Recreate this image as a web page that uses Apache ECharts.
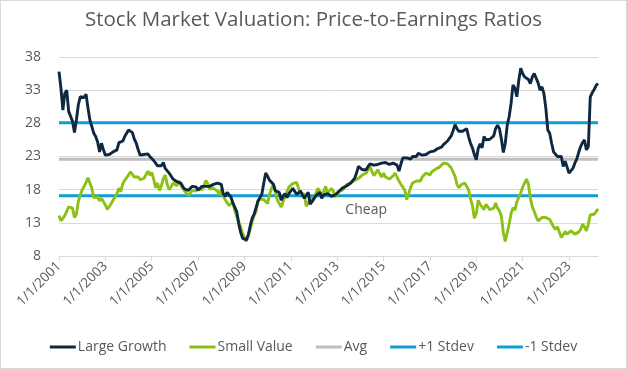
<!DOCTYPE html>
<html>
<head>
<meta charset="utf-8">
<script src="https://cdn.jsdelivr.net/npm/echarts@6/dist/echarts.min.js"></script>
<style>
html,body{margin:0;padding:0;background:#fff;}
#frame{position:absolute;left:0;top:0;width:625px;height:367px;border:1px solid #d9d9d9;}
#chart{width:627px;height:369px;}
</style>
</head>
<body>
<div id="frame"></div>
<div id="chart"></div>
<script>
// Monthly data, Jan 2001 .. Apr 2024
const startYear = 2001;
const largeGrowth = [
  35.8, 33.3, 30.0, 32.5, 33.0, 29.8, 29.7, 28.3, 26.6, 28.5, 30.8, 32.0,
  32.0, 31.9, 32.4, 30.3, 28.5, 27.5, 26.5, 26.0, 25.2, 23.7, 25.0, 24.0,
  23.2, 23.0, 23.3, 23.5, 23.7, 23.7, 24.0, 25.1, 24.8, 25.3, 26.0, 26.5,
  27.0, 27.1, 26.6, 25.6, 25.0, 24.0, 23.2, 23.5, 23.3, 23.0, 23.4, 23.0,
  22.8, 22.4, 22.0, 21.6, 21.5, 21.6, 22.1, 21.2, 21.0, 20.5, 20.2, 19.6,
  19.7, 19.2, 19.2, 19.0, 18.5, 18.1, 17.8, 17.9, 18.2, 18.5, 18.7, 18.4,
  17.9, 18.2, 18.5, 18.2, 18.5, 18.6, 18.5, 18.2, 18.8, 19.0, 19.0, 18.7,
  18.8, 17.4, 17.0, 17.6, 17.3, 16.9, 16.0, 16.2, 14.7, 12.9, 11.6, 10.7,
  10.9, 10.4, 11.2, 12.6, 13.7, 14.3, 15.3, 16.3, 16.8, 17.3, 19.0, 20.5,
  20.0, 19.4, 19.2, 18.8, 17.8, 17.5, 17.6, 16.4, 17.0, 17.4, 16.8, 17.4,
  17.8, 18.2, 17.9, 17.3, 17.0, 17.8, 17.2, 16.7, 16.9, 17.6, 15.8, 16.2,
  16.0, 17.1, 16.9, 17.6, 16.7, 17.2, 16.9, 17.4, 17.3, 17.0, 17.2, 17.2,
  17.5, 17.8, 18.1, 18.3, 18.4, 18.6, 18.8, 19.0, 19.3, 19.7, 20.5, 21.5,
  21.5, 21.0, 21.2, 21.0, 21.5, 21.9, 22.2, 21.7, 21.8, 21.8, 21.6, 22.0,
  21.7, 22.1, 21.8, 21.8, 21.8, 22.0, 21.7, 21.7, 20.8, 21.9, 22.8, 22.8,
  22.8, 22.8, 22.6, 23.0, 22.9, 23.0, 23.5, 23.2, 23.2, 23.5, 23.3, 23.5,
  23.7, 23.6, 23.8, 24.1, 24.2, 24.2, 24.4, 24.8, 24.9, 25.3, 25.7, 26.1,
  26.9, 27.8, 27.2, 26.8, 26.8, 26.8, 27.1, 27.2, 26.0, 25.0, 24.3, 23.3,
  22.5, 24.2, 24.9, 24.3, 26.0, 25.5, 25.7, 25.6, 25.7, 26.1, 27.2, 27.7,
  27.2, 25.6, 23.6, 25.0, 27.7, 29.0, 31.0, 33.8, 33.3, 32.0, 34.5, 36.3,
  35.5, 35.0, 35.3, 34.6, 34.0, 35.0, 35.5, 34.8, 34.1, 33.0, 33.5, 32.5,
  30.3, 27.0, 26.5, 25.0, 23.7, 23.5, 23.0, 22.7, 23.0, 21.5, 22.3, 21.4,
  20.5, 20.5, 21.2, 22.0, 22.6, 23.6, 24.5, 25.1, 25.5, 24.0, 24.5, 32.0,
  32.6, 33.1, 33.7, 34.0
];
const smallValue = [
  14.1, 13.3, 13.6, 14.1, 14.4, 15.4, 15.4, 15.2, 13.8, 14.3, 16.2, 17.2,
  18.0, 18.5, 19.1, 19.8, 19.6, 18.2, 16.8, 16.6, 16.9, 16.3, 16.7, 16.2,
  15.7, 15.0, 15.3, 15.9, 16.4, 16.7, 17.4, 18.2, 17.7, 18.9, 19.4, 19.8,
  20.2, 20.7, 20.8, 19.9, 20.1, 19.9, 19.5, 19.6, 19.7, 19.4, 20.8, 20.2,
  20.6, 19.6, 18.3, 19.0, 17.9, 18.6, 19.7, 20.2, 18.8, 18.0, 18.4, 19.0,
  19.2, 18.6, 19.3, 19.2, 18.2, 17.8, 17.6, 17.1, 17.3, 17.9, 18.1, 17.8,
  18.2, 18.5, 18.0, 18.5, 19.4, 18.9, 18.1, 17.9, 18.2, 18.4, 17.8, 17.2,
  18.1, 17.0, 16.5, 16.8, 15.6, 15.8, 16.1, 14.8, 14.5, 13.2, 12.4, 11.4,
  11.7, 10.2, 10.5, 12.0, 13.2, 14.1, 14.7, 16.2, 16.6, 16.5, 16.5, 16.6,
  15.9, 17.3, 18.2, 18.8, 17.7, 16.4, 16.7, 15.4, 16.2, 17.0, 17.7, 18.4,
  18.3, 18.9, 19.2, 19.1, 18.2, 17.5, 17.6, 17.3, 15.5, 15.9, 16.7, 16.7,
  16.7, 17.0, 18.2, 17.7, 17.2, 17.7, 18.5, 17.5, 17.7, 18.2, 17.8, 16.9,
  17.0, 17.7, 17.8, 18.0, 18.3, 18.8, 19.1, 19.0, 19.3, 19.4, 19.5, 19.7,
  19.9, 20.2, 20.0, 20.5, 20.8, 21.5, 20.7, 20.1, 19.9, 21.0, 20.9, 19.9,
  20.5, 19.9, 19.6, 19.6, 19.6, 20.1, 20.5, 20.2, 19.3, 18.8, 18.6, 17.9,
  16.5, 16.7, 18.3, 19.0, 19.2, 19.3, 19.5, 19.3, 19.9, 19.8, 20.5, 20.5,
  20.2, 20.7, 20.7, 21.1, 21.2, 21.4, 21.5, 22.0, 22.2, 21.9, 21.7, 21.3,
  21.2, 20.0, 18.8, 18.3, 18.7, 19.0, 19.0, 18.7, 18.0, 16.6, 15.6, 13.7,
  14.4, 16.4, 15.8, 15.6, 15.0, 15.8, 15.8, 15.0, 15.2, 15.2, 16.0, 15.2,
  14.8, 14.0, 11.5, 10.2, 11.5, 12.8, 14.4, 15.3, 14.9, 16.2, 16.5, 17.5,
  18.4, 19.0, 19.6, 18.8, 16.7, 15.4, 14.7, 13.9, 13.3, 13.4, 13.8, 14.0,
  13.8, 13.9, 13.5, 13.3, 12.4, 12.0, 12.4, 11.6, 10.8, 11.1, 11.7, 11.3,
  11.0, 11.8, 12.1, 11.3, 11.3, 11.6, 12.0, 12.8, 12.4, 11.8, 12.8, 14.2,
  14.0, 14.3, 14.7, 15.1
];
const avgLevel = 22.6;
const plusStdevLevel = 28.1;
const minusStdevLevel = 17.1;
const yTicks = [8, 13, 18, 23, 28, 33, 38];
const seriesNames = ['Large Growth', 'Small Value', 'Avg', '+1 Stdev', '-1 Stdev'];
const titleText = 'Stock Market Valuation: Price-to-Earnings Ratios';
const cheapText = 'Cheap';
const cheapAtIndex = 159;

const months = largeGrowth.map((_, i) => {
  const y = startYear + Math.floor(i / 12);
  const m = (i % 12) + 1;
  return m + '/1/' + y;
});
const flat = v => months.map(() => v);

const FONT = '"Open Sans", Roboto, sans-serif';
const TXT = '#595959';

const chart = echarts.init(document.getElementById('chart'), null, {renderer: 'canvas'});
chart.setOption({
  animation: false,
  backgroundColor: 'transparent',
  title: {
    text: titleText, left: 'center', top: 5,
    textStyle: {fontFamily: FONT, fontSize: 20.5, fontWeight: 'normal', color: TXT}
  },
  grid: {left: 59, right: 29, top: 57, bottom: 113, containLabel: false},
  legend: {
    data: seriesNames, bottom: 10, left: 'center', itemGap: 23,
    itemWidth: 26, itemHeight: 3, icon: 'rect',
    textStyle: {fontFamily: FONT, fontSize: 14, color: TXT, padding: [0, 0, 0, -3]}
  },
  xAxis: {
    type: 'category', data: months, boundaryGap: false,
    axisLine: {lineStyle: {color: '#d9d9d9', width: 1}},
    axisTick: {show: true, interval: 23, length: 5, lineStyle: {color: '#d9d9d9'}},
    axisLabel: {interval: 23, rotate: 45, margin: 8, fontFamily: FONT, fontSize: 13.5, color: TXT},
    splitLine: {show: false}
  },
  yAxis: {
    type: 'value', min: yTicks[0], max: yTicks[yTicks.length - 1], interval: 5,
    axisLine: {show: false}, axisTick: {show: false},
    axisLabel: {fontFamily: FONT, fontSize: 14, color: TXT, margin: 18},
    splitLine: {lineStyle: {color: '#d9d9d9', width: 1}}
  },
  series: [
    {name: seriesNames[2], type: 'line', data: flat(avgLevel), showSymbol: false, z: 2,
     lineStyle: {color: '#bfbfbf', width: 3}, itemStyle: {color: '#bfbfbf'}},
    {name: seriesNames[3], type: 'line', data: flat(plusStdevLevel), showSymbol: false, z: 2,
     lineStyle: {color: '#0f9ed5', width: 3}, itemStyle: {color: '#0f9ed5'}},
    {name: seriesNames[4], type: 'line', data: flat(minusStdevLevel), showSymbol: false, z: 2,
     lineStyle: {color: '#0f9ed5', width: 3}, itemStyle: {color: '#0f9ed5'},
     markPoint: {symbol: 'rect', symbolSize: 1, silent: true, itemStyle: {color: 'rgba(0,0,0,0)'},
       data: [{coord: [cheapAtIndex, minusStdevLevel], value: cheapText}],
       label: {show: true, position: 'inside', formatter: cheapText, offset: [0, 14],
         fontFamily: FONT, fontSize: 14, color: TXT}}},
    {name: seriesNames[0], type: 'line', data: largeGrowth, showSymbol: false, z: 4,
     lineStyle: {color: '#0e2841', width: 2.9}, itemStyle: {color: '#0e2841'}},
    {name: seriesNames[1], type: 'line', data: smallValue, showSymbol: false, z: 3,
     lineStyle: {color: '#8cc014', width: 2.9}, itemStyle: {color: '#8cc014'}}
  ]
});
</script>
</body>
</html>
